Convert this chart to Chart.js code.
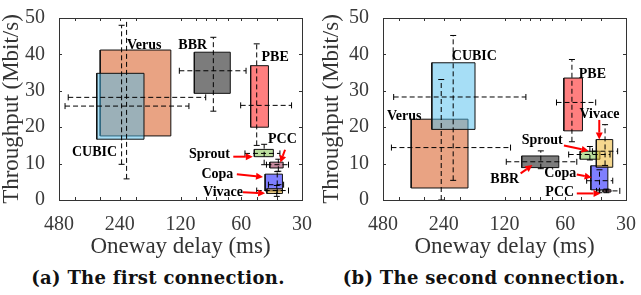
<!DOCTYPE html>
<html>
<head>
<meta charset="utf-8">
<script src="https://cdn.jsdelivr.net/npm/chart.js@4.4.1/dist/chart.umd.min.js"></script>
<style>
  body { margin: 0; background: #fff; width: 641px; height: 295px; position: relative; overflow: hidden; }
  canvas { position: absolute; top: 0; }
  .cap { position: absolute; top: 267px; font: bold 18px "DejaVu Serif"; letter-spacing: 0.3px; color: #111; text-align: center; white-space: nowrap; }
</style>
</head>
<body>
<canvas id="c1" width="320" height="262" style="left:0"></canvas>
<canvas id="c2" width="321" height="262" style="left:320px"></canvas>
<div class="cap" style="left:0;width:316px">(a) The first connection.</div>
<div class="cap" style="left:320px;width:328px">(b) The second connection.</div>
<script>
// schemes, same order in every array below
const schemes = ['CUBIC', 'Verus', 'BBR', 'PBE', 'Sprout', 'PCC', 'Copa', 'Vivace'];
const delayTicks = [480, 240, 120, 60, 30];
const minorDelayTicks = [400, 300, 200, 100, 90, 80, 70, 50, 40];
const tputTicks = [0, 10, 20, 30, 40, 50];

// (a) first connection: box = [delay lo..hi] x [tput lo..hi]
const firstBoxDelay = [[312, 182], [300, 134], [102.5, 68], [53.9, 44], [51.7, 41.6], [43.3, 37.2], [45.7, 37.5], [44.8, 37.5]];
const firstBoxTput = [[16.7, 34.8], [17.6, 41.2], [29.3, 40.6], [20, 36.9], [11.9, 13.9], [8.8, 10.4], [2.5, 7.1], [1.8, 3.1]];
// horizontal whisker: tput level + delay span
const firstHTput = [25.8, 28.2, 35.5, 26, 12.8, 9.7, 4.2, 2.6];
const firstHDelay = [[448, 109], [432, 90], [121.6, 56.8], [60.4, 33.8], [57.5, 38.6], [45, 35], [44, 37], [50.3, 35]];
// vertical whisker: delay level + tput span
const firstVDelay = [235, 222, 82.5, 50.3, 46.2, 39.3, 39.8, 40];
const firstVTput = [[9.8, 48], [5.8, 50], [24.4, 44.7], [15, 42.9], [9.7, 15.3], [7.9, 11.2], [1.8, 7.8], [1, 4]];

// (b) second connection
const secondBoxDelay = [[275, 168], [348, 182], [98.6, 64.6], [61, 49.3], [50.6, 40.4], [39, 35.6], [44.8, 36.9], [42.1, 34.9]];
const secondBoxTput = [[19.4, 37.7], [3.3, 22.2], [8.9, 12.1], [19, 33.5], [11.2, 13.4], [2.2, 2.8], [2.8, 9.4], [9, 16.6]];
const secondHTput = [28.3, 14.4, 10.5, 26.8, 12.5, 2.5, 5.3, 13.4];
const secondHDelay = [[425, 94], [436, 112], [117.6, 52.6], [66.3, 42.4], [57.7, 36], [42, 32.2], [47, 34.9], [44, 33]];
const secondVDelay = [215.5, 247, 79.3, 55.6, 45.3, 37.5, 40.6, 38.1];
const secondVTput = [[5.4, 45.2], [0, 33.1], [8.6, 13.5], [16, 38.6], [11, 14.7], [2, 3], [2, 8.3], [9.5, 20.7]];

const boxColors = {
  CUBIC: 'rgba(77,190,238,0.5)',
  Verus: 'rgb(233,163,131)',
  BBR: 'rgba(80,80,80,0.75)',
  PBE: 'rgba(255,0,0,0.5)',
  Sprout: 'rgba(120,190,60,0.5)',
  PCC: 'rgba(140,20,60,0.5)',
  Copa: 'rgba(0,0,255,0.5)',
  Vivace: 'rgba(235,175,30,0.5)'
};
// bottom to top
const drawOrder = ['Verus', 'CUBIC', 'BBR', 'PBE', 'Sprout', 'PCC', 'Copa', 'Vivace'];

// annotation text: [text, delay, tput, align]
const firstLabels = [
  ['Verus', 221, 42.6, 'left'], ['BBR', 123, 42.6, 'left'], ['PBE', 47.6, 39.2, 'left'],
  ['PCC', 44.2, 16.7, 'left'], ['CUBIC', 414, 13.2, 'left'], ['Sprout', 68.3, 12.4, 'right'],
  ['Copa', 65.7, 7.1, 'right'], ['Vivace', 58.8, 2.1, 'right']
];
const firstArrows = [[65.7, 11.9, 52.6, 11.9], [63.1, 7.1, 46.8, 6.3], [58.8, 2.1, 45.7, 1.85], [36.4, 13.8, 38.4, 10.3]];
const secondLabels = [
  ['CUBIC', 219, 39.5, 'left'], ['PBE', 51.4, 34.5, 'left'], ['Vivace', 51, 23.6, 'left'],
  ['Verus', 459, 23, 'left'], ['Sprout', 98.6, 16.3, 'left'], ['BBR', 141, 5.7, 'left'],
  ['Copa', 76.2, 7.3, 'left'], ['PCC', 75.3, 2.1, 'left']
];
const secondArrows = [[40.7, 22, 40.7, 16.6], [60.9, 15, 46, 13.5], [99.8, 7.3, 87.3, 9.6], [52.6, 7.0, 44.4, 6.2], [52.6, 1.8, 40.1, 1.8]];

function buildDatasets(boxDelay, boxTput, hTput, hDelay, vDelay, vTput) {
  const sets = [];
  schemes.forEach((name, i) => {
    const [x1, x2] = boxDelay[i];
    const [y1, y2] = boxTput[i];
    sets.push({
      data: [{x: x1, y: y1}, {x: x2, y: y1}, {x: x2, y: y2}, {x: x1, y: y2}, {x: x1, y: y1}],
      showLine: true,
      fill: 'shape',
      backgroundColor: boxColors[name],
      borderColor: '#111',
      borderWidth: 1,
      pointRadius: 0,
      tension: 0,
      order: 100 - drawOrder.indexOf(name)
    });
    sets.push({
      data: [{x: hDelay[i][0], y: hTput[i]}, {x: hDelay[i][1], y: hTput[i]}],
      showLine: true,
      borderColor: '#000',
      borderWidth: 1,
      borderDash: [5, 3],
      pointStyle: 'line',
      pointRadius: 3,
      pointRotation: 90,
      pointBorderColor: '#000',
      pointBorderWidth: 1,
      order: 0
    });
    sets.push({
      data: [{x: vDelay[i], y: vTput[i][0]}, {x: vDelay[i], y: vTput[i][1]}],
      showLine: true,
      borderColor: '#000',
      borderWidth: 1,
      borderDash: [5, 3],
      pointStyle: 'line',
      pointRadius: 3,
      pointRotation: 0,
      pointBorderColor: '#000',
      pointBorderWidth: 1,
      order: 0
    });
  });
  return sets;
}

// frame, inner ticks, labels and arrows
const decorPlugin = {
  id: 'decor',
  afterDatasetsDraw(chart, args, opts) {
    const ctx = chart.ctx;
    const xs = chart.scales.x, ys = chart.scales.y;
    const a = chart.chartArea;
    ctx.save();
    ctx.strokeStyle = '#333';
    ctx.lineWidth = 1;
    ctx.strokeRect(a.left + 0.5, a.top + 0.5, a.right - a.left, a.bottom - a.top);
    ctx.beginPath();
    delayTicks.concat(minorDelayTicks).forEach(v => {
      const px = Math.round(xs.getPixelForValue(v)) + 0.5;
      ctx.moveTo(px, a.bottom); ctx.lineTo(px, a.bottom - 3);
      ctx.moveTo(px, a.top); ctx.lineTo(px, a.top + 3);
    });
    tputTicks.forEach(v => {
      const py = Math.round(ys.getPixelForValue(v)) + 0.5;
      ctx.moveTo(a.left, py); ctx.lineTo(a.left + 3, py);
      ctx.moveTo(a.right, py); ctx.lineTo(a.right - 3, py);
    });
    ctx.stroke();

    ctx.fillStyle = '#000';
    ctx.font = 'bold 14px "Liberation Serif"';
    ctx.textBaseline = 'middle';
    opts.labels.forEach(([t, d, v, align]) => {
      ctx.textAlign = align;
      ctx.fillText(t, xs.getPixelForValue(d), ys.getPixelForValue(v));
    });

    ctx.strokeStyle = '#ff0000';
    ctx.fillStyle = '#ff0000';
    ctx.lineWidth = 2;
    opts.arrows.forEach(([d1, v1, d2, v2]) => {
      const x1 = xs.getPixelForValue(d1), y1 = ys.getPixelForValue(v1);
      const x2 = xs.getPixelForValue(d2), y2 = ys.getPixelForValue(v2);
      const ang = Math.atan2(y2 - y1, x2 - x1);
      const hl = 7, hw = 3.5;
      const bx = x2 - Math.cos(ang) * hl, by = y2 - Math.sin(ang) * hl;
      ctx.beginPath();
      ctx.moveTo(x1, y1); ctx.lineTo(bx, by);
      ctx.stroke();
      ctx.beginPath();
      ctx.moveTo(x2, y2);
      ctx.lineTo(bx - Math.sin(ang) * hw, by + Math.cos(ang) * hw);
      ctx.lineTo(bx + Math.sin(ang) * hw, by - Math.cos(ang) * hw);
      ctx.closePath();
      ctx.fill();
    });
    ctx.restore();
  }
};

function makeChart(id, datasets, labels, arrows, box) {
  return new Chart(document.getElementById(id), {
    type: 'scatter',
    data: { datasets: datasets },
    plugins: [decorPlugin],
    options: {
      responsive: false,
      animation: false,
      events: [],
      layout: { padding: { top: box.top, right: box.right, left: 0, bottom: 0 } },
      plugins: {
        legend: { display: false },
        tooltip: { enabled: false },
        decor: { labels: labels, arrows: arrows }
      },
      scales: {
        x: {
          type: 'logarithmic',
          min: 30,
          max: 480,
          reverse: true,
          grid: { display: false },
          border: { display: false },
          afterBuildTicks: s => { s.ticks = delayTicks.map(v => ({ value: v })); },
          afterFit: s => { s.height = 62; },
          ticks: {
            autoSkip: false,
            maxRotation: 0,
            padding: 5,
            color: '#3a3a3a',
            font: { family: 'Liberation Serif', size: 20 },
            callback: v => String(v)
          },
          title: {
            display: true,
            text: 'Oneway delay (ms)',
            color: '#333',
            padding: { top: 0, bottom: 1 },
            font: { family: 'Liberation Serif', size: 23 }
          }
        },
        y: {
          min: 0,
          max: 50,
          grid: { display: false },
          border: { display: false },
          afterFit: s => { s.width = box.left; },
          ticks: {
            stepSize: 10,
            padding: 6,
            color: '#3a3a3a',
            font: { family: 'Liberation Serif', size: 20 }
          },
          title: {
            display: true,
            text: 'Throughput (Mbit/s)',
            color: '#333',
            padding: 0,
            font: { family: 'Liberation Serif', size: 23, lineHeight: 1 }
          }
        }
      }
    }
  });
}

makeChart('c1', buildDatasets(firstBoxDelay, firstBoxTput, firstHTput, firstHDelay, firstVDelay, firstVTput),
  firstLabels, firstArrows, { left: 59, right: 18, top: 11 });
makeChart('c2', buildDatasets(secondBoxDelay, secondBoxTput, secondHTput, secondHDelay, secondVDelay, secondVTput),
  secondLabels, secondArrows, { left: 63, right: 11, top: 7 });
</script>
</body>
</html>
